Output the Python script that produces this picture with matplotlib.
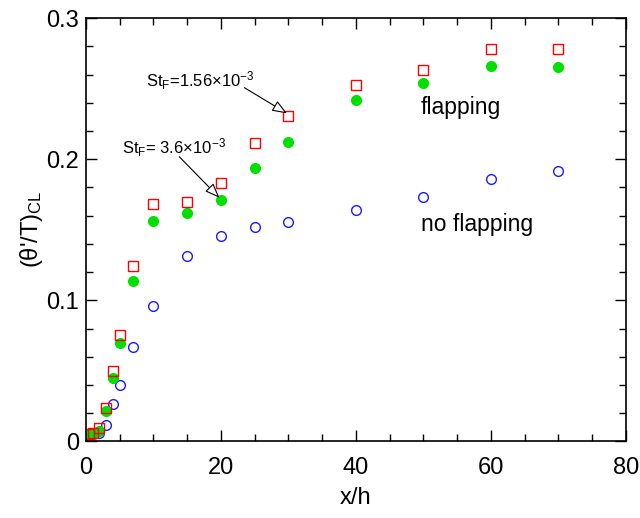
import matplotlib
matplotlib.use("Agg")
import matplotlib.pyplot as plt
from matplotlib.ticker import MultipleLocator

plt.rcParams['font.family'] = ['Liberation Sans', 'DejaVu Sans']
plt.rcParams['mathtext.fontset'] = 'custom'
plt.rcParams['mathtext.rm'] = 'Liberation Sans'
plt.rcParams['mathtext.it'] = 'Liberation Sans:italic'
plt.rcParams['mathtext.bf'] = 'Liberation Sans:bold'

x = [0.5, 1, 2, 3, 4, 5, 7, 10, 15, 20, 25, 30, 40, 50, 60, 70]
st_low = [0.005, 0.006, 0.0098, 0.0238, 0.0498, 0.0757, 0.1245, 0.1684, 0.1694, 0.1829, 0.2112, 0.2304, 0.2526, 0.263, 0.2784, 0.2784]
st_high = [0.005, 0.005, 0.0074, 0.0214, 0.0453, 0.0696, 0.1138, 0.1559, 0.1621, 0.1713, 0.1937, 0.2119, 0.2417, 0.254, 0.2663, 0.2651]
no_flap = [0.005, 0.005, 0.006, 0.0117, 0.0264, 0.0399, 0.0668, 0.0961, 0.1311, 0.1453, 0.1519, 0.1557, 0.1642, 0.1736, 0.186, 0.192]

fig = plt.figure(figsize=(6.4, 5.18), dpi=100)
ax = fig.add_axes([0.134, 0.1477, 0.844, 0.8173])

ax.plot(x, no_flap, 'o', ms=7, mfc='none', mec='#1a1aff', mew=1.0, ls='none')
ax.plot(x, st_high, 'o', ms=7, mfc='#00e000', mec='#00e000', ls='none')
ax.plot(x, st_low, 's', ms=7, mfc='none', mec='#ff0000', mew=1.0, ls='none')

ax.set_xlim(0, 80)
ax.set_ylim(0, 0.3)
ax.xaxis.set_minor_locator(MultipleLocator(5))
ax.yaxis.set_minor_locator(MultipleLocator(0.02))
ax.set_yticks([0, 0.1, 0.2, 0.3])
ax.set_yticklabels(['0', '0.1', '0.2', '0.3'])
ax.set_xticks([0, 20, 40, 60, 80])
ax.set_xticklabels(['0', '20', '40', '60', '80'])
ax.tick_params(which='both', direction='in', top=True, right=True, labelsize=17, width=1.0)
ax.tick_params(which='major', length=8)
ax.tick_params(which='minor', length=5)
ax.tick_params(axis='x', which='major', pad=11)
ax.tick_params(axis='y', which='major', pad=5)
for s in ax.spines.values():
    s.set_linewidth(1.2)

ax.set_xlabel('x/h', fontsize=17, labelpad=6)
ax.set_ylabel("(θ'/T)$_{\\rm CL}$", fontsize=17, labelpad=1)

arrow = dict(arrowstyle='-|>,head_length=0.9,head_width=0.35', fc='white', ec='black', lw=0.8, shrinkA=0, shrinkB=0)
ax.annotate('', xy=(29.8, 0.2325), xytext=(23.5, 0.2507), arrowprops=arrow)
ax.annotate('', xy=(19.8, 0.1727), xytext=(13.85, 0.2018), arrowprops=arrow)
ax.text(8.9, 0.256, 'St$_{\\rm F}$=1.56×10$^{-3}$', fontsize=12, ha='left', va='center')
ax.text(5.3, 0.208, 'St$_{\\rm F}$= 3.6×10$^{-3}$', fontsize=12, ha='left', va='center')

ax.text(49.6, 0.2365, 'flapping', fontsize=16.5, ha='left', va='center')
ax.text(49.6, 0.1535, 'no flapping', fontsize=16.5, ha='left', va='center')

fig.savefig('out.png', dpi=100)
